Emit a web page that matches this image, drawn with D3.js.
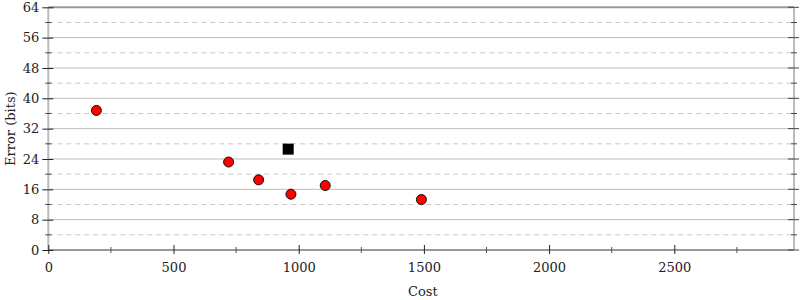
<!DOCTYPE html>
<html><head><meta charset="utf-8">
<script src="https://cdn.jsdelivr.net/npm/d3@7"></script>
<style>body{margin:0;background:#fff}svg{display:block}text{font-family:"DejaVu Serif",serif}</style>
</head><body><svg id="c" width="800" height="300"></svg>
<script>
const costs = [192, 720, 840, 969, 1106, 1490];
const errors = [36.8, 23.2, 18.5, 14.7, 17.0, 13.3];
const initialCost = [958];
const initialError = [26.6];
const xTicks = [0, 500, 1000, 1500, 2000, 2500];
const xMinorTicks = [250, 750, 1250, 1750, 2250, 2750];
const yTicks = [0, 8, 16, 24, 32, 40, 48, 56, 64];
const yMinorTicks = [4, 12, 20, 28, 36, 44, 52, 60];

const svg = d3.select("#c");
const L = 48.3, R = 794, T = 7.3, B = 250;
const x = d3.scaleLinear().domain([0, 2978]).range([L, R]);
const y = d3.scaleLinear().domain([0, 64]).range([B, T]);

// gridlines
svg.append("g").selectAll("line").data(yTicks.slice(1, -1)).join("line")
  .attr("x1", L).attr("x2", R).attr("y1", d => y(d)).attr("y2", d => y(d))
  .attr("stroke", "#bbb").attr("stroke-width", 1);
svg.append("g").selectAll("line").data(yMinorTicks).join("line")
  .attr("x1", L).attr("x2", R).attr("y1", d => y(d)).attr("y2", d => y(d))
  .attr("stroke", "#c8c8c8").attr("stroke-width", 1).attr("stroke-dasharray", "5,4");

// frame lines
svg.append("line").attr("x1", L).attr("x2", R).attr("y1", T).attr("y2", T).attr("stroke", "#999").attr("stroke-width", 2);
svg.append("line").attr("x1", L).attr("x2", R).attr("y1", B).attr("y2", B).attr("stroke", "#999").attr("stroke-width", 2);
svg.append("line").attr("x1", L).attr("x2", L).attr("y1", T).attr("y2", B).attr("stroke", "#bbb").attr("stroke-width", 2);
svg.append("line").attr("x1", R).attr("x2", R).attr("y1", T).attr("y2", B).attr("stroke", "#bbb").attr("stroke-width", 2);

// y axis left
const yl = svg.append("g").attr("transform", `translate(${L},0)`)
  .call(d3.axisLeft(y).tickValues(yTicks).tickSize(6).tickPadding(3).tickFormat(d3.format("d")));
yl.attr("font-family", null);
yl.select(".domain").remove();
yl.selectAll(".tick line").attr("x2", -6).attr("x1", 5).attr("stroke", "#222");
yl.selectAll(".tick text").attr("font-size", 13).attr("fill", "#222");
svg.append("g").selectAll("line").data(yMinorTicks).join("line")
  .attr("x1", L - 3).attr("x2", L + 3).attr("y1", d => y(d)).attr("y2", d => y(d)).attr("stroke", "#444");

// y axis right
svg.append("g").selectAll("line").data(yTicks).join("line")
  .attr("x1", R - 6).attr("x2", R + 5).attr("y1", d => y(d)).attr("y2", d => y(d)).attr("stroke", "#444");
svg.append("g").selectAll("line").data(yMinorTicks).join("line")
  .attr("x1", R - 3).attr("x2", R + 3).attr("y1", d => y(d)).attr("y2", d => y(d)).attr("stroke", "#444");

// x axis
const xa = svg.append("g").attr("transform", `translate(0,${B})`)
  .call(d3.axisBottom(x).tickValues(xTicks).tickSize(5).tickPadding(8).tickFormat(d3.format("d")));
xa.attr("font-family", null);
xa.select(".domain").remove();
xa.selectAll(".tick line").attr("y1", -5).attr("y2", 4).attr("stroke", "#222");
xa.selectAll(".tick text").attr("font-size", 13).attr("fill", "#222");
svg.append("g").selectAll("line").data(xMinorTicks).join("line")
  .attr("x1", d => x(d)).attr("x2", d => x(d)).attr("y1", B - 3).attr("y2", B + 3).attr("stroke", "#555");

// labels
svg.append("text").attr("x", x(1500) - 1).attr("y", 296).attr("text-anchor", "middle")
  .attr("font-size", 13).attr("fill", "#222").text("Cost");
svg.append("text").attr("transform", `translate(15,${(T + B) / 2}) rotate(-90)`).attr("text-anchor", "middle")
  .attr("font-size", 13).attr("fill", "#222").text("Error (bits)");

// points
svg.append("g").selectAll("circle").data(costs.map((c, i) => [c, errors[i]])).join("circle")
  .attr("cx", d => x(d[0])).attr("cy", d => y(d[1])).attr("r", 5)
  .attr("fill", "red").attr("stroke", "#111").attr("stroke-width", 1);
svg.append("g").selectAll("rect").data(initialCost.map((c, i) => [c, initialError[i]])).join("rect")
  .attr("x", d => x(d[0]) - 5.5).attr("y", d => y(d[1]) - 5.5).attr("width", 11).attr("height", 11)
  .attr("fill", "#000");
</script></body></html>
